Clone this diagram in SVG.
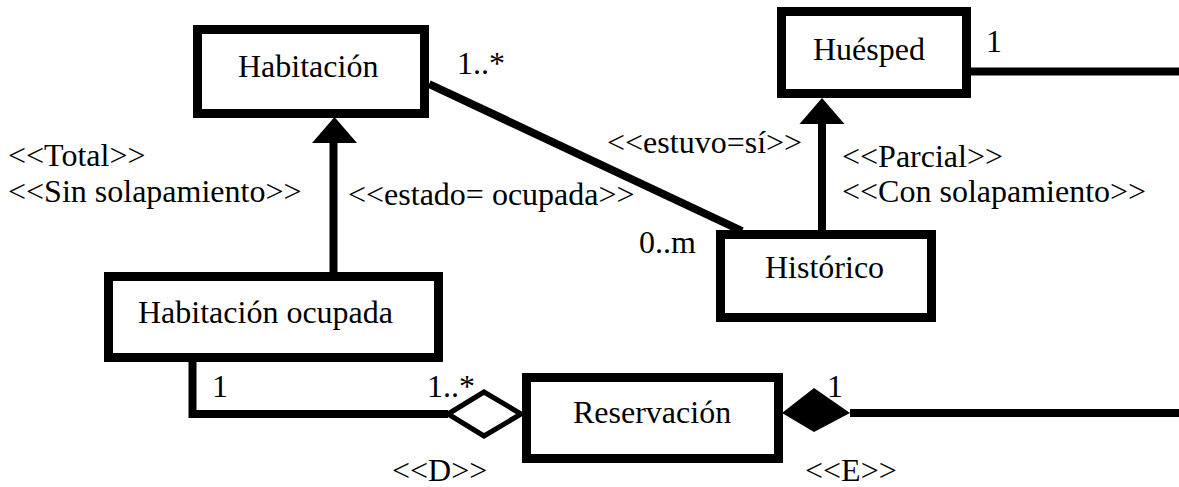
<svg xmlns="http://www.w3.org/2000/svg" width="1179" height="487" viewBox="0 0 1179 487">
  <style>
    .box { fill: #ffffff; stroke: #000000; stroke-width: 9; }
    .ln { fill: none; stroke: #000000; stroke-width: 8; }
    text { font-family: 'Liberation Serif', 'Times New Roman', Times, 'DejaVu Serif', serif; font-size: 32px; fill: #000000; }
  </style>
  <rect width="1179" height="487" fill="#ffffff"/>
  <g id="connectors">
    <line class="ln" x1="971" y1="71.5" x2="1179" y2="71.5"/>
    <line class="ln" x1="333.5" y1="272" x2="333.5" y2="140"/>
    <polygon points="312,143 357,143 334.5,117" fill="#000000"/>
    <line class="ln" x1="822" y1="230" x2="822" y2="121"/>
    <polygon points="799.5,124 844.5,124 822,98" fill="#000000"/>
    <line class="ln" x1="429" y1="84" x2="742" y2="231"/>
    <polyline class="ln" points="192.5,362 192.5,414 448,414"/>
    <polygon points="448,414 484,392 521,414 484,436" fill="#ffffff" stroke="#000000" stroke-width="5"/>
    <polygon points="782,413 814,388 850,413 814,432" fill="#000000"/>
    <line class="ln" x1="850" y1="413" x2="1179" y2="413" stroke-width="9"/>
  </g>
  <g id="habitacion">
    <rect class="box" x="197.5" y="29.5" width="227" height="84"/>
    <text x="238" y="77">Habitación</text>
  </g>
  <g id="huesped">
    <rect class="box" x="781.5" y="11.5" width="185" height="82"/>
    <text x="813" y="60">Huésped</text>
  </g>
  <g id="historico">
    <rect class="box" x="720.5" y="234.5" width="211" height="83"/>
    <text x="765" y="278">Histórico</text>
  </g>
  <g id="habitacion-ocupada">
    <rect class="box" x="108.5" y="276.5" width="330" height="81"/>
    <text x="138" y="323">Habitación ocupada</text>
  </g>
  <g id="reservacion">
    <rect class="box" x="526.5" y="377.5" width="252" height="81"/>
    <text x="573" y="423">Reservación</text>
  </g>
  <g id="labels">
    <text x="457" y="74">1..*</text>
    <text x="986" y="52">1</text>
    <text x="8" y="166">&lt;&lt;Total&gt;&gt;</text>
    <text x="8" y="202">&lt;&lt;Sin solapamiento&gt;&gt;</text>
    <text x="348" y="205">&lt;&lt;estado= ocupada&gt;&gt;</text>
    <text x="607" y="153">&lt;&lt;estuvo=sí&gt;&gt;</text>
    <text x="842" y="167">&lt;&lt;Parcial&gt;&gt;</text>
    <text x="842" y="202">&lt;&lt;Con solapamiento&gt;&gt;</text>
    <text x="639" y="253">0..m</text>
    <text x="212" y="397">1</text>
    <text x="427" y="397">1..*</text>
    <text x="827" y="397">1</text>
    <text x="392" y="481">&lt;&lt;D&gt;&gt;</text>
    <text x="805" y="481">&lt;&lt;E&gt;&gt;</text>
  </g>
</svg>
